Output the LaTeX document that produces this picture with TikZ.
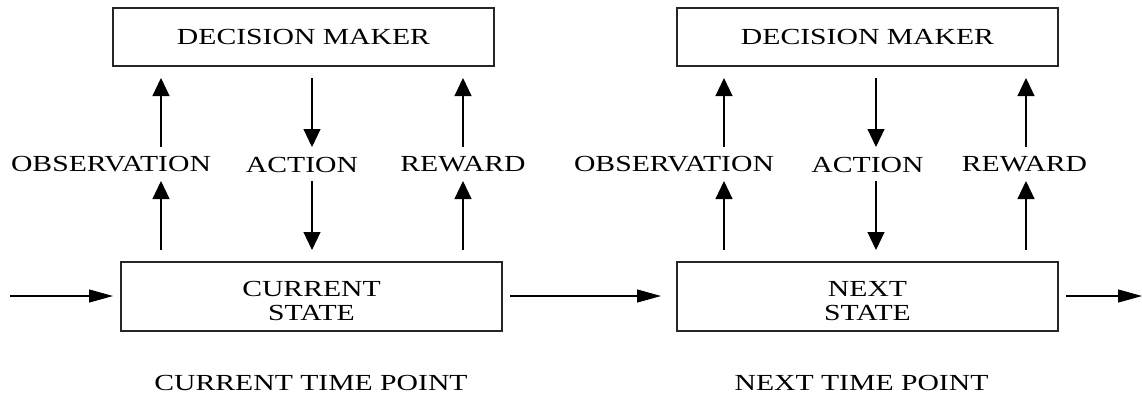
\documentclass[tikz,border=0pt]{standalone}
\usepackage{fontspec}
\setmainfont{Liberation Serif}[FakeStretch=1.29]
\usetikzlibrary{arrows.meta}
\newcommand{\twoline}[2]{\raisebox{-3.5pt}[\height][\depth]{\begin{tabular}{@{}c@{}}#1\\#2\end{tabular}}}
\begin{document}
\begin{tikzpicture}[x=0.5pt,y=-0.5pt,
  txt/.style={font=\fontsize{11.5}{12}\selectfont, inner sep=0pt, outer sep=0pt, align=center},
  blk/.style={txt, draw=black!85, line width=0.55pt, minimum width=190.5pt},
  dmbox/.style={blk, minimum height=29pt},
  stbox/.style={blk, minimum height=34.5pt},
  vup/.style={line width=0.6pt, -{Triangle[length=9pt,width=8.5pt]}},
  hright/.style={line width=0.6pt, -{Triangle[length=12pt,width=6.5pt]}}]
\useasboundingbox (0,0) rectangle (1142,393);
% boxes
\node[dmbox] (dm1) at (303.5,37) {DECISION MAKER};
\node[dmbox] (dm2) at (867.5,37) {DECISION MAKER};
\node[stbox] (cs) at (311.5,296.5) {\twoline{CURRENT}{STATE}};
\node[stbox] (ns) at (867.5,296.5) {\twoline{NEXT}{STATE}};
% labels
\node[txt] (obs1) at (111,164.5) {OBSERVATION};
\node[txt] (act1) at (302,164.5) {ACTION};
\node[txt] (rew1) at (463,164.5) {REWARD};
\node[txt] (obs2) at (674,164.5) {OBSERVATION};
\node[txt] (act2) at (867.5,164.5) {ACTION};
\node[txt] (rew2) at (1024.5,164.5) {REWARD};
\node[txt] (ctp) at (311,383) {CURRENT TIME POINT};
\node[txt] (ntp) at (861.5,383) {NEXT TIME POINT};
% arrow end points
\foreach \n/\x in {o1/161,a1/312,r1/463,o2/724,a2/876,r2/1026}{
  \coordinate (\n t) at (\x,78);
  \coordinate (\n m) at (\x,147);
  \coordinate (\n n) at (\x,181);
  \coordinate (\n b) at (\x,250);
}
\coordinate (inL) at (10,296);
\coordinate (inR) at (113,296);
\coordinate (midA) at (510,296);
\coordinate (midB) at (661,296);
\coordinate (outA) at (1066,296);
\coordinate (outB) at (1142,296);
% vertical arrows
\draw[vup] (o1m) -- (o1t);
\draw[vup] (a1t) -- (a1m);
\draw[vup] (r1m) -- (r1t);
\draw[vup] (o1b) -- (o1n);
\draw[vup] (a1n) -- (a1b);
\draw[vup] (r1b) -- (r1n);
\draw[vup] (o2m) -- (o2t);
\draw[vup] (a2t) -- (a2m);
\draw[vup] (r2m) -- (r2t);
\draw[vup] (o2b) -- (o2n);
\draw[vup] (a2n) -- (a2b);
\draw[vup] (r2b) -- (r2n);
% horizontal arrows
\draw[hright] (inL) -- (inR);
\draw[hright] (midA) -- (midB);
\draw[hright] (outA) -- (outB);
\end{tikzpicture}
\end{document}
